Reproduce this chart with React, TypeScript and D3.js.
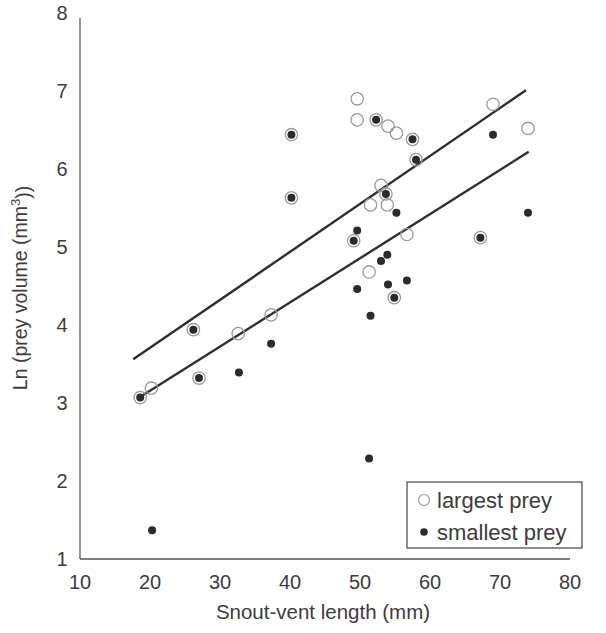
import React from "react";
import * as d3 from "d3";

const xTicks = [10, 20, 30, 40, 50, 60, 70, 80];
const yTicks = [1, 2, 3, 4, 5, 6, 7, 8];

// largest prey (open circles): [SVL mm, ln volume]
const largestSVL = [18.6, 20.2, 26.2, 27.0, 32.6, 37.3, 40.2, 40.2, 49.1, 49.6, 49.6, 51.3, 51.5, 52.3, 53.0, 53.7, 53.9, 54.0, 54.9, 55.2, 56.7, 57.5, 58.0, 67.2, 69.0, 74.0];
const largestLn = [3.07, 3.19, 3.94, 3.32, 3.89, 4.13, 5.63, 6.44, 5.08, 6.90, 6.63, 4.68, 5.54, 6.63, 5.79, 5.68, 5.54, 6.55, 4.35, 6.46, 5.16, 6.38, 6.12, 5.12, 6.83, 6.52];

// smallest prey (filled dots)
const smallestSVL = [18.6, 20.3, 26.2, 27.0, 32.7, 37.3, 40.2, 40.2, 49.1, 49.6, 49.6, 51.3, 51.5, 52.3, 53.0, 53.7, 53.9, 54.0, 54.9, 55.2, 56.7, 57.5, 58.0, 67.2, 69.0, 74.0];
const smallestLn = [3.07, 1.37, 3.94, 3.32, 3.39, 3.76, 5.63, 6.44, 5.08, 5.21, 4.46, 2.29, 4.12, 6.63, 4.82, 5.68, 4.90, 4.52, 4.35, 5.44, 4.57, 6.38, 6.12, 5.12, 6.44, 5.44];

// regression lines: [x1, y1, x2, y2]
const largestFit = [17.6, 3.56, 73.7, 7.01];
const smallestFit = [18.3, 3.06, 74.1, 6.22];

const legendLabels = ["largest prey", "smallest prey"];

export default function App() {
  const W = 606, H = 633;
  const x = d3.scaleLinear().domain([10, 80]).range([80, 570]);
  const y = d3.scaleLinear().domain([1, 8]).range([559, 13]);
  const txt = "#3c3c3c";
  const font = "'Liberation Sans', Arial, sans-serif";
  const line = d3.line<[number, number]>().x(d => x(d[0])).y(d => y(d[1]));
  const fitPath = (f: number[]) => line([[f[0], f[1]], [f[2], f[3]]]) as string;

  return (
    <svg width={W} height={H} style={{ position: "absolute", left: 0, top: 0, background: "#fff" }} fontFamily={font}>
      {/* axes */}
      <line x1={x(10)} x2={x(10)} y1={18} y2={y(1)} stroke="#555" strokeWidth={1.3} />
      <line x1={x(10)} x2={x(80)} y1={y(1)} y2={y(1)} stroke="#555" strokeWidth={1.3} />
      {yTicks.map(t => (
        <text key={"y" + t} x={62} y={y(t)} dy="0.35em" textAnchor="middle" fontSize={20} fill={txt}>{t}</text>
      ))}
      {xTicks.map(t => (
        <text key={"x" + t} x={x(t)} y={582} dy="0.35em" textAnchor="middle" fontSize={20} fill={txt}>{t}</text>
      ))}
      <text x={323} y={612} dy="0.35em" textAnchor="middle" fontSize={20.5} fill={txt}>Snout-vent length (mm)</text>
      <text transform={`translate(20,288) rotate(-90)`} dy="0.35em" textAnchor="middle" fontSize={19.5} fill={txt}>
        Ln (prey volume (mm<tspan dy="-0.5em" fontSize={13}>3</tspan><tspan dy="0.5em">))</tspan>
      </text>

      {/* regression lines */}
      <path d={fitPath(largestFit)} stroke="#2e2e2e" strokeWidth={2.4} fill="none" />
      <path d={fitPath(smallestFit)} stroke="#2e2e2e" strokeWidth={2.4} fill="none" />

      {/* points */}
      {largestSVL.map((v, i) => (
        <circle key={"l" + i} cx={x(v)} cy={y(largestLn[i])} r={6.2} fill="none" stroke="#9a9a9a" strokeWidth={1.3} />
      ))}
      {smallestSVL.map((v, i) => (
        <circle key={"s" + i} cx={x(v)} cy={y(smallestLn[i])} r={4} fill="#2b2b2b" />
      ))}

      {/* legend */}
      <rect x={407} y={482} width={175} height={66} fill="#fff" stroke="#444" strokeWidth={1.2} />
      <circle cx={424} cy={500} r={5.5} fill="none" stroke="#9a9a9a" strokeWidth={1.2} />
      <circle cx={424} cy={532} r={3.8} fill="#2b2b2b" />
      {legendLabels.map((l, i) => (
        <text key={l} x={437} y={500 + i * 32} dy="0.35em" fontSize={22} fill={txt}>{l}</text>
      ))}
    </svg>
  );
}
